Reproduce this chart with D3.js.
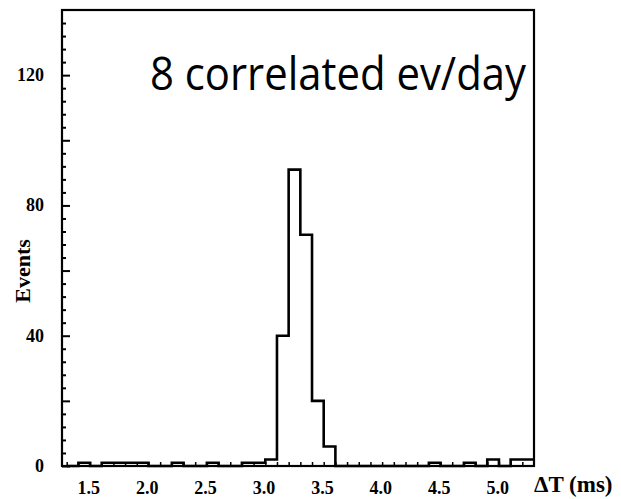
<!DOCTYPE html>
<html>
<head>
<meta charset="utf-8">
<script src="https://cdn.jsdelivr.net/npm/d3@7"></script>
<style>
    body { margin: 0; background: #fff; }
    .tickText { font-family: "Liberation Serif", "DejaVu Serif", serif; font-weight: bold; font-size: 18px; }
</style>
</head>
<body>
<div id="chart"></div>
<script>
//Histogram data: left edge of each 0.1 ms bin and event count
var binStarts = [1.2, 1.3, 1.4, 1.5, 1.6, 1.7, 1.8, 1.9, 2.0, 2.1,
    2.2, 2.3, 2.4, 2.5, 2.6, 2.7, 2.8, 2.9, 3.0, 3.1,
    3.2, 3.3, 3.4, 3.5, 3.6, 3.7, 3.8, 3.9, 4.0, 4.1,
    4.2, 4.3, 4.4, 4.5, 4.6, 4.7, 4.8, 4.9, 5.0, 5.1];
var counts = [0, 1, 0, 1, 1, 1, 1, 0, 0, 1,
    0, 0, 1, 0, 0, 1, 1, 2, 40, 91,
    71, 20, 6, 0, 0, 0, 0, 0, 0, 0,
    0, 1, 0, 0, 1, 0, 2, 0, 2, 2];
var binWidth = 0.1;

var xTickLabels = [1.5, 2.0, 2.5, 3.0, 3.5, 4.0, 4.5, 5.0];
var yTickLabels = [0, 40, 80, 120];

//SVG size
var svgWidth = 621;
var svgHeight = 499;

var svg = d3.select("#chart")
    .append("svg")
    .attr("width", svgWidth)
    .attr("height", svgHeight);

//Scales (plot frame is x 62..534, y 10..466)
var xScale = d3.scaleLinear()
    .domain([1.16, 5.2])
    .range([62, 534]);

var yScale = d3.scaleLinear()
    .domain([0, 140])
    .range([466, 10]);

//Step line for the histogram
var points = binStarts.map((b, i) => [b, counts[i]]);
points.push([binStarts[binStarts.length - 1] + binWidth, counts[counts.length - 1]]);

var stepLine = d3.line()
    .x(d => xScale(d[0]))
    .y(d => yScale(d[1]))
    .curve(d3.curveStepAfter);

svg.append("path")
    .datum(points)
    .attr("d", stepLine)
    .attr("fill", "none")
    .attr("stroke", "#000")
    .attr("stroke-width", 2.6);

//Frame
svg.append("rect")
    .attr("x", xScale.range()[0])
    .attr("y", yScale.range()[1])
    .attr("width", xScale.range()[1] - xScale.range()[0])
    .attr("height", yScale.range()[0] - yScale.range()[1])
    .attr("fill", "none")
    .attr("stroke", "#000")
    .attr("stroke-width", 2.2);

//Left axis: inner ticks every 4 events, longer ones every 20
var leftAxis = d3.axisRight(yScale)
    .tickValues(d3.range(0, 140, 4))
    .tickSize(4)
    .tickFormat("");

var yAxis = svg.append("g")
    .attr("transform", `translate(${xScale.range()[0]}, 0)`)
    .call(leftAxis);
yAxis.select(".domain").remove();
yAxis.selectAll("line")
    .attr("stroke-width", 2)
    .attr("x2", d => d % 20 === 0 ? 8 : 4);

yAxis.selectAll(".yLabel")
    .data(yTickLabels)
    .enter()
    .append("text")
    .attr("class", "tickText")
    .attr("x", -18)
    .attr("y", d => yScale(d) + 6)
    .attr("text-anchor", "end")
    .attr("fill", "#000")
    .text(d => d);

//Bottom axis: small inner ticks at every bin edge
var bottomAxis = d3.axisTop(xScale)
    .tickValues(d3.range(12, 52).map(v => v / 10))
    .tickSize(4)
    .tickFormat("");

var xAxis = svg.append("g")
    .attr("transform", `translate(0, ${yScale.range()[0]})`)
    .call(bottomAxis);
xAxis.select(".domain").remove();
xAxis.selectAll("line").attr("stroke-width", 1.5);

//X tick labels (printed slightly left of the tick in the original)
xAxis.selectAll(".xLabel")
    .data(xTickLabels)
    .enter()
    .append("text")
    .attr("class", "tickText")
    .attr("x", d => xScale(d) - 13)
    .attr("y", 28)
    .attr("text-anchor", "middle")
    .attr("fill", "#000")
    .text(d => d.toFixed(1));

//Axis titles
svg.append("text")
    .attr("class", "tickText")
    .attr("x", 534)
    .attr("y", 492)
    .style("font-size", "23px")
    .text("ΔT (ms)");

svg.append("text")
    .attr("class", "tickText")
    .attr("transform", "translate(30, 271) rotate(-90)")
    .attr("text-anchor", "middle")
    .style("font-size", "22px")
    .text("Events");

//Annotation
svg.append("text")
    .attr("x", 150)
    .attr("y", 90)
    .attr("textLength", 376)
    .attr("lengthAdjust", "spacingAndGlyphs")
    .style("font-family", "'Open Sans', sans-serif")
    .style("font-size", "45px")
    .attr("fill", "#000")
    .text("8 correlated ev/day");
</script>
</body>
</html>
